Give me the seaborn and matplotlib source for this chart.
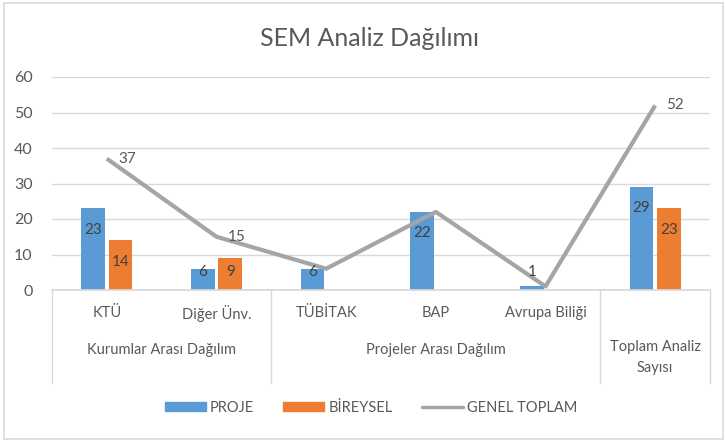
import matplotlib
matplotlib.use("Agg")
import matplotlib.pyplot as plt
import matplotlib.patches as mpatches
import matplotlib.lines as mlines
import matplotlib.transforms as mtransforms
import seaborn as sns
import numpy as np
import pandas as pd

# veriler
kategoriler = ["KTÜ", "Diğer Ünv.", "TÜBİTAK", "BAP", "Avrupa Biliği", ""]
gruplar = ["Kurumlar Arası Dağılım", "Projeler Arası Dağılım", "Toplam Analiz\nSayısı"]
grup_sayilari = [2, 3, 1]
proje = [23, 6, 6, 22, 1, 29]
bireysel = [14, 9, np.nan, np.nan, np.nan, 23]
genel_toplam = [37, 15, 6, 22, 1, 52]
etiketli_toplam = [True, True, False, False, False, True]

MAVI = "#5B9BD5"
TURUNCU = "#ED7D31"
GRI = "#A5A5A5"
YAZI = "#595959"
IZGARA = "#D9D9D9"

sns.set_theme(style="white")
plt.rcParams["font.family"] = ["Lato", "DejaVu Sans"]

n = len(kategoriler)
x_ids = [f"k{i}" for i in range(n)]
df = pd.DataFrame({
    "kat": x_ids * 2,
    "seri": ["PROJE"] * n + ["BİREYSEL"] * n,
    "deger": proje + bireysel,
})

fig = plt.figure(figsize=(7.25, 4.46), dpi=100)
ax = fig.add_axes([52 / 725, 1 - 290 / 446, (710 - 52) / 725, (290 - 77) / 446])

sns.barplot(data=df, x="kat", y="deger", hue="seri", order=x_ids,
            hue_order=["PROJE", "BİREYSEL"], palette=[MAVI, TURUNCU],
            width=0.5, gap=0.14, errorbar=None, legend=False, ax=ax,
            saturation=1, linewidth=0)

sns.lineplot(x=np.arange(n), y=genel_toplam, color=GRI, linewidth=3,
             ax=ax, legend=False, solid_capstyle="butt")

ax.set_ylim(0, 60)
ax.set_xlim(-0.5, n - 0.5)
ax.set_yticks(range(0, 61, 10))
ax.yaxis.grid(True, color=IZGARA, linewidth=1)
ax.set_axisbelow(True)
ax.set_xticks([])
ax.set_xlabel("")
ax.set_ylabel("")
for s in ["top", "right", "left"]:
    ax.spines[s].set_visible(False)
ax.spines["bottom"].set_color(IZGARA)
ax.tick_params(axis="y", length=0, pad=14, labelsize=11.5, labelcolor=YAZI)

# çubuk etiketleri
for cont in ax.containers:
    for bar in cont:
        h = bar.get_height()
        if np.isnan(h) or h == 0:
            continue
        ax.text(bar.get_x() + bar.get_width() / 2, max(h - 6, 5), f"{h:g}",
                ha="center", va="center", fontsize=11, color="#404040")

# toplam etiketleri
for i, (v, e) in enumerate(zip(genel_toplam, etiketli_toplam)):
    if e:
        ax.annotate(f"{v}", (i, v), xytext=(8, 0), textcoords="offset points",
                    ha="left", va="center", fontsize=11, color=YAZI)

# çok düzeyli kategori ekseni
tr = mtransforms.blended_transform_factory(ax.transData, ax.transAxes)
for i, k in enumerate(kategoriler):
    ax.text(i, -0.108, k, transform=tr, ha="center", va="center",
            fontsize=10.5, color=YAZI)
sinirlar = np.concatenate([[0], np.cumsum(grup_sayilari)]) - 0.5
for g, (a, b) in zip(gruplar, zip(sinirlar[:-1], sinirlar[1:])):
    if "\n" in g:
        ax.text((a + b) / 2, -0.235, g, transform=tr, ha="center", va="top",
                fontsize=10.5, color=YAZI, linespacing=1.6)
    else:
        ax.text((a + b) / 2, -0.282, g, transform=tr, ha="center", va="center",
                fontsize=10.5, color=YAZI)
for s in sinirlar:
    ax.plot([s, s], [0, -0.437], transform=tr, color=IZGARA, linewidth=1,
            clip_on=False)

fig.suptitle("SEM Analiz Dağılımı", x=0.51, y=1 - 38 / 446, va="center",
             fontsize=18, color=YAZI)

handles = [
    mpatches.Patch(color=MAVI, label="PROJE"),
    mpatches.Patch(color=TURUNCU, label="BİREYSEL"),
    mlines.Line2D([], [], color=GRI, linewidth=2.5, label="GENEL TOPLAM"),
]
leg = fig.legend(handles=handles, loc="center", bbox_to_anchor=(0.512, 1 - 408 / 446),
                 ncol=3, frameon=False, handlelength=2.8, handleheight=0.6,
                 handletextpad=0.3, columnspacing=2.0, fontsize=10.5)
for t in leg.get_texts():
    t.set_color(YAZI)

fig.patches.append(mpatches.Rectangle((4 / 725, 1 - 439 / 446), 719 / 725, 436 / 446,
                                      transform=fig.transFigure, fill=False,
                                      edgecolor=IZGARA, linewidth=1.2))

fig.savefig("out.png", dpi=100)
